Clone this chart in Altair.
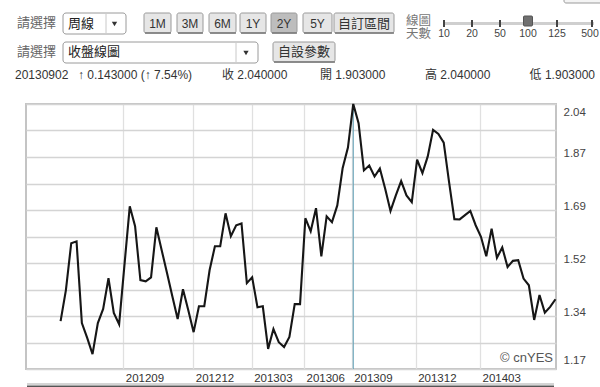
import altair as alt
import pandas as pd

# ---------------- data ----------------
close = [1.327, 1.429, 1.583, 1.589, 1.321, 1.272, 1.219, 1.321, 1.367, 1.468,
         1.354, 1.317, 1.511, 1.704, 1.639, 1.462, 1.458, 1.471, 1.635, 1.560,
         1.485, 1.409, 1.334, 1.432, 1.363, 1.291, 1.376, 1.376, 1.494, 1.573,
         1.573, 1.681, 1.606, 1.642, 1.648, 1.452, 1.471, 1.373, 1.376, 1.236,
         1.301, 1.258, 1.242, 1.275, 1.383, 1.383, 1.665, 1.622, 1.698, 1.540,
         1.671, 1.652, 1.707, 1.829, 1.897, 2.040, 1.977, 1.822, 1.838, 1.802,
         1.828, 1.762, 1.689, 1.740, 1.787, 1.740, 1.718, 1.857, 1.813, 1.868,
         1.955, 1.942, 1.913, 1.784, 1.662, 1.661, 1.675, 1.689, 1.642, 1.604,
         1.540, 1.631, 1.535, 1.569, 1.505, 1.525, 1.527, 1.467, 1.445, 1.331,
         1.413, 1.355, 1.374, 1.399]
cursor_index = [55]
month_pos = [11.78, 24.94, 35.91, 45.74, 54.7, 66.73, 78.82]
month_labels = ['201209', '201212', '201303', '201306', '201309', '201312', '201403']
y_ticks = [1.17, 1.257, 1.344, 1.431, 1.518, 1.605, 1.692, 1.779, 1.866, 1.953, 2.04]

period_buttons = ['1M', '3M', '6M', '1Y', '2Y', '5Y', '自訂區間']
active_period = '2Y'
day_options = ['10', '20', '50', '100', '125', '500']
active_days = '100'
freq_choice = '周線'
chart_choice = '收盤線圖'
info_date = '20130902'
info_change = '↑ 0.143000 (↑ 7.54%)'
info_items = ['收 2.040000', '開 1.903000', '高 2.040000', '低 1.903000']

# ---------------- layout (pixels, page coordinates) ----------------
OX, OY = 26, 104
W, H = 530, 265
FONT = 'Liberation Sans, Noto Sans CJK TC, DejaVu Sans'
button_x = [(144, 171), (177, 203), (209, 236), (240, 266), (271, 297), (303, 332), (334, 394)]
day_x = [444, 472, 500, 528, 557, 592]
info_x = [(222, 'left'), (320, 'left'), (425, 'left'), (595, 'right')]

one = pd.DataFrame({'k': [0]})


def txt(s, x, y, size=12, color='#333', align='left'):
    return alt.Chart(one).mark_text(text=s, align=align, baseline='middle', fontSize=size,
                                    color=color, font=FONT).encode(
        x=alt.value(x - OX), y=alt.value(y - OY))


def box(x0, y0, x1, y1, fill, stroke, r=0, sw=1):
    return alt.Chart(one).mark_rect(fill=fill, stroke=stroke, strokeWidth=sw, cornerRadius=r).encode(
        x=alt.value(x0 - OX), x2=alt.value(x1 - OX), y=alt.value(y0 - OY), y2=alt.value(y1 - OY))


def seg(x0, y0, x1, y1, color, w=1):
    return alt.Chart(one).mark_rule(color=color, strokeWidth=w).encode(
        x=alt.value(x0 - OX), x2=alt.value(x1 - OX), y=alt.value(y0 - OY), y2=alt.value(y1 - OY))


def tri(x, y, size=28, color='#333'):
    return alt.Chart(one).mark_point(shape='triangle-down', filled=True, size=size, color=color,
                                     opacity=1).encode(x=alt.value(x - OX), y=alt.value(y - OY))


deco = []
# row 1
deco.append(txt('請選擇', 17, 23, 13, '#666'))
deco.append(box(63, 13, 126, 34, '#ffffff', '#9a9a9a', 3))
deco.append(txt(freq_choice, 68, 23.5, 13, '#222'))
deco.append(seg(106, 14, 106, 33, '#c8c8c8'))
deco.append(tri(114.5, 24))
for (x0, x1), lab in zip(button_x, period_buttons):
    fill = '#bdbdbd' if lab == active_period else '#e6e6e6'
    deco.append(box(x0, 13, x1, 33, fill, '#9a9a9a', 2))
    deco.append(seg(x0 + 1, 33, x1, 33, '#777', 1.5))
    deco.append(txt(lab, (x0 + x1) / 2, 23.5, 13 if len(lab) > 2 else 12, '#333', 'center'))
deco.append(txt('線圖', 406, 21, 12.5, '#777'))
deco.append(txt('天數', 406, 33.5, 12.5, '#777'))
deco.append(seg(443, 23.5, 594, 23.5, '#cfcfcf', 3))
for x, lab in zip(day_x, day_options):
    if lab == active_days:
        deco.append(box(x - 4.5, 16, x + 4.5, 26, '#707070', '#555', 1))
    else:
        deco.append(seg(x, 20, x, 27, '#444', 2))
    deco.append(txt(lab, min(x, 590), 34, 10.5, '#444', 'center'))
deco.append(box(564, -3, 603, 3, '#f4f4f4', '#9a9a9a', 2))
# row 2
deco.append(txt('請選擇', 17, 52, 13, '#666'))
deco.append(box(63, 42, 258, 63, '#ffffff', '#9a9a9a', 3))
deco.append(txt(chart_choice, 68, 52, 13, '#222'))
deco.append(seg(236, 43, 236, 62, '#c8c8c8'))
deco.append(tri(246, 53))
deco.append(box(273, 42, 335, 62, '#e6e6e6', '#9a9a9a', 2))
deco.append(seg(274, 62, 335, 62, '#777', 1.5))
deco.append(txt('自設參數', 304, 52, 13, '#333', 'center'))
# row 3
deco.append(txt(info_date, 15, 75, 12, '#333'))
deco.append(txt(info_change, 78, 75, 12, '#333'))
for (x, al), s in zip(info_x, info_items):
    deco.append(txt(s, x, 75, 12, '#333', al))
# watermark and bottom bar
deco.append(txt('© cnYES', 553, 358, 13, '#555', 'right'))
deco.append(seg(27, 384, 554, 384, '#aaaaaa', 1))
deco.append(seg(27, 386.5, 554, 386.5, '#555555', 2))

# ---------------- main chart ----------------
df = pd.DataFrame({'i': list(range(len(close))), 'close': close})
xs = alt.Scale(domain=[-6.5, 93.1], nice=False, zero=False)
ys = alt.Scale(domain=[1.17, 2.04], nice=False, zero=False)

x_expr = ' : '.join(f"datum.value == {p} ? '{l}'" for p, l in zip(month_pos, month_labels)) + " : ''"
x_axis = alt.Axis(values=month_pos, labelExpr=x_expr, grid=True, gridColor='#e0e0e0', gridWidth=1.3,
                  ticks=False, domain=False, labelAlign='left', labelBaseline='top', labelOffset=2,
                  labelPadding=3, labelFontSize=11.5, labelColor='#333', labelFont=FONT,
                  labelOverlap=False, labelBound=False, labelFlush=False, title=None)
y_axis = alt.Axis(values=y_ticks, orient='right',
                  labelExpr="round((datum.value - 1.17) / 0.087) % 2 == 0 ? format(datum.value, '.2f') : ''",
                  grid=True, gridColor='#d4d4d4', gridWidth=1.5, ticks=False, domain=False,
                  labelPadding=7, labelFontSize=11.5, labelColor='#444', labelFont=FONT,
                  labelOverlap=False, labelBound=False,
                  labelOffset={"condition": [{"test": "datum.value > 2", "value": 8},
                                             {"test": "datum.value < 1.2", "value": -9}],
                               "value": -4},
                  title=None)

cursor = alt.Chart(pd.DataFrame({'i': cursor_index})).mark_rule(color='#5d9fb5', strokeWidth=1).encode(
    x=alt.X('i:Q', scale=xs, axis=x_axis))
line = alt.Chart(df).mark_line(color='#161616', strokeWidth=2.1).encode(
    x=alt.X('i:Q', scale=xs, axis=x_axis),
    y=alt.Y('close:Q', scale=ys, axis=y_axis))

chart = alt.layer(cursor, line, *deco).properties(
    width=W, height=H, autosize='none',
    padding={'left': OX, 'top': OY, 'right': 600 - OX - W, 'bottom': 387 - OY - H},
    background='white'
).configure_view(stroke='#c4c4c4', strokeWidth=2)

chart.save('out.html', embed_options={'renderer': 'svg', 'actions': False})
